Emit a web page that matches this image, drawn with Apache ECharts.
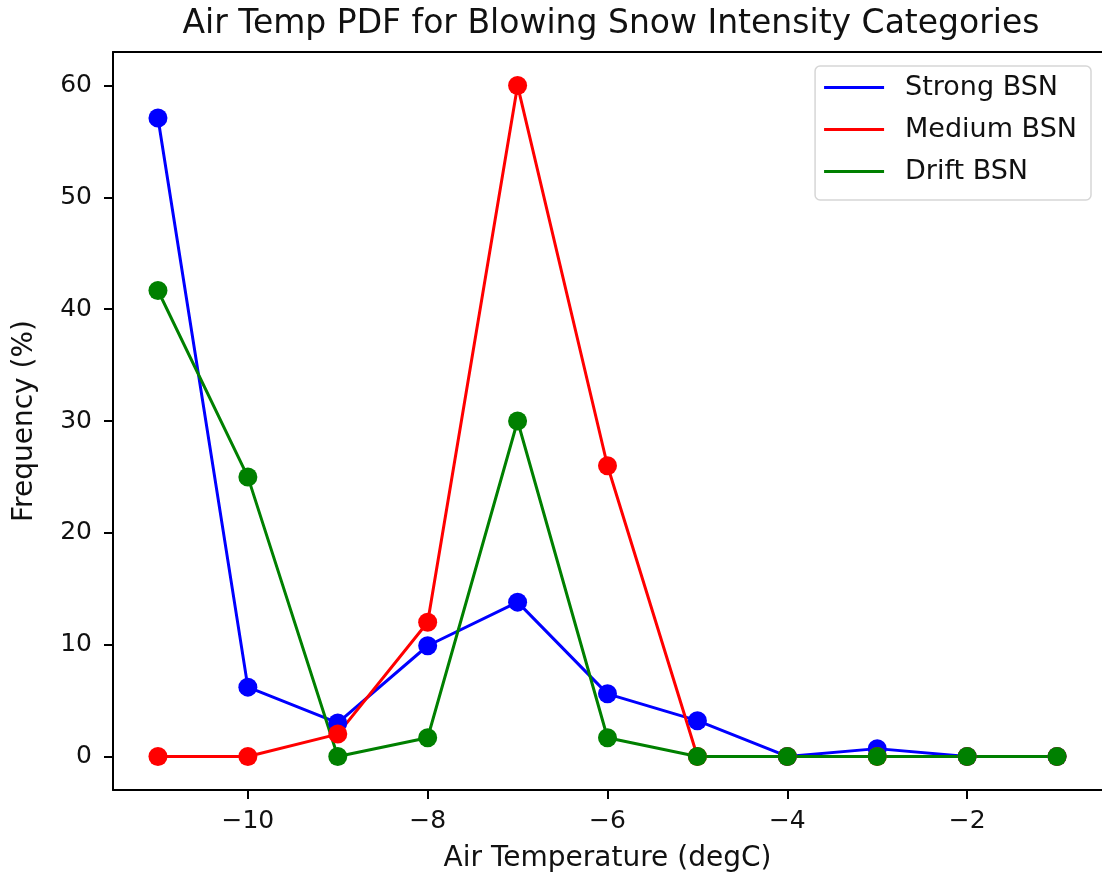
<!DOCTYPE html>
<html>
<head>
<meta charset="utf-8">
<script src="https://cdn.jsdelivr.net/npm/echarts@6/dist/echarts.min.js"></script>
<style>
  html, body { margin: 0; padding: 0; background: #fff; }
  #chart { width: 1102px; height: 878px; }
</style>
</head>
<body>
<div id="chart"></div>
<script>
// Air temperature bins (degC)
const temps = [-11, -10, -9, -8, -7, -6, -5, -4, -3, -2, -1];
// Frequency (%) per temperature bin for each blowing snow category
const strongBSN = [57.1, 6.2, 3.0, 9.9, 13.8, 5.6, 3.2, 0, 0.7, 0, 0];
const mediumBSN = [0, 0, 2, 12, 60, 26, 0, 0, 0, 0, 0];
const driftBSN  = [41.67, 25, 0, 1.67, 30, 1.67, 0, 0, 0, 0, 0];
// Tick labels
const xTicks = [-10, -8, -6, -4, -2];
const yTicks = [0, 10, 20, 30, 40, 50, 60];

const FONT = 'DejaVu Sans';
const pairs = (ys) => temps.map((t, i) => [t, ys[i]]);

function lineSeries(name, color, ys) {
  return {
    name: name,
    type: 'line',
    data: pairs(ys),
    symbol: 'circle',
    symbolSize: 19,
    showAllSymbol: true,
    lineStyle: { color: color, width: 3 },
    itemStyle: { color: color },
    emphasis: { disabled: true }
  };
}

const spine = { show: true, onZero: false, lineStyle: { color: '#000', width: 2 } };

const chart = echarts.init(document.getElementById('chart'), null, { renderer: 'canvas' });
chart.setOption({
  animation: false,
  backgroundColor: '#fff',
  title: {
    text: 'Air Temp PDF for Blowing Snow Intensity Categories',
    left: 606,
    textAlign: 'center',
    top: 3,
    textStyle: { fontFamily: FONT, fontSize: 33, fontWeight: 'normal', color: '#111' }
  },
  legend: {
    orient: 'vertical',
    right: 11,
    top: 66,
    padding: [8, 14, 15, 9],
    itemGap: 15,
    itemWidth: 60,
    itemHeight: 3,
    icon: 'rect',
    backgroundColor: '#fff',
    borderColor: '#d6d6d6',
    borderWidth: 1.5,
    borderRadius: 5,
    textStyle: { fontFamily: FONT, fontSize: 27, color: '#111', padding: [0, 0, 0, 16] },
    data: ['Strong BSN', 'Medium BSN', 'Drift BSN']
  },
  grid: { left: 113, top: 52, right: -1, bottom: 88, show: false },
  xAxis: [{
    type: 'value',
    min: -11.5,
    max: -0.5,
    name: 'Air Temperature (degC)',
    nameLocation: 'middle',
    nameGap: 55,
    nameTextStyle: { fontFamily: FONT, fontSize: 28, color: '#111' },
    axisLine: spine,
    axisTick: { show: true, length: 9, lineStyle: { color: '#000', width: 2 }, customValues: xTicks },
    axisLabel: {
      fontFamily: FONT, fontSize: 25, color: '#111', margin: 19,
      customValues: xTicks,
      formatter: (v) => (v < 0 ? '\u2212' + Math.abs(v) : String(v))
    },
    splitLine: { show: false }
  }, {
    // top frame line
    type: 'value',
    position: 'top',
    min: -11.5,
    max: -0.5,
    axisLine: spine,
    axisTick: { show: false },
    axisLabel: { show: false },
    splitLine: { show: false }
  }],
  yAxis: {
    type: 'value',
    min: -3,
    max: 63,
    name: 'Frequency (%)',
    nameLocation: 'middle',
    nameGap: 74,
    nameTextStyle: { fontFamily: FONT, fontSize: 28, color: '#111' },
    axisLine: spine,
    axisTick: { show: true, length: 9, lineStyle: { color: '#000', width: 2 }, customValues: yTicks },
    axisLabel: { fontFamily: FONT, fontSize: 25, color: '#111', margin: 21, customValues: yTicks },
    splitLine: { show: false }
  },
  series: [
    lineSeries('Strong BSN', '#0000ff', strongBSN),
    lineSeries('Medium BSN', '#ff0000', mediumBSN),
    lineSeries('Drift BSN', '#008000', driftBSN)
  ]
});
</script>
</body>
</html>
